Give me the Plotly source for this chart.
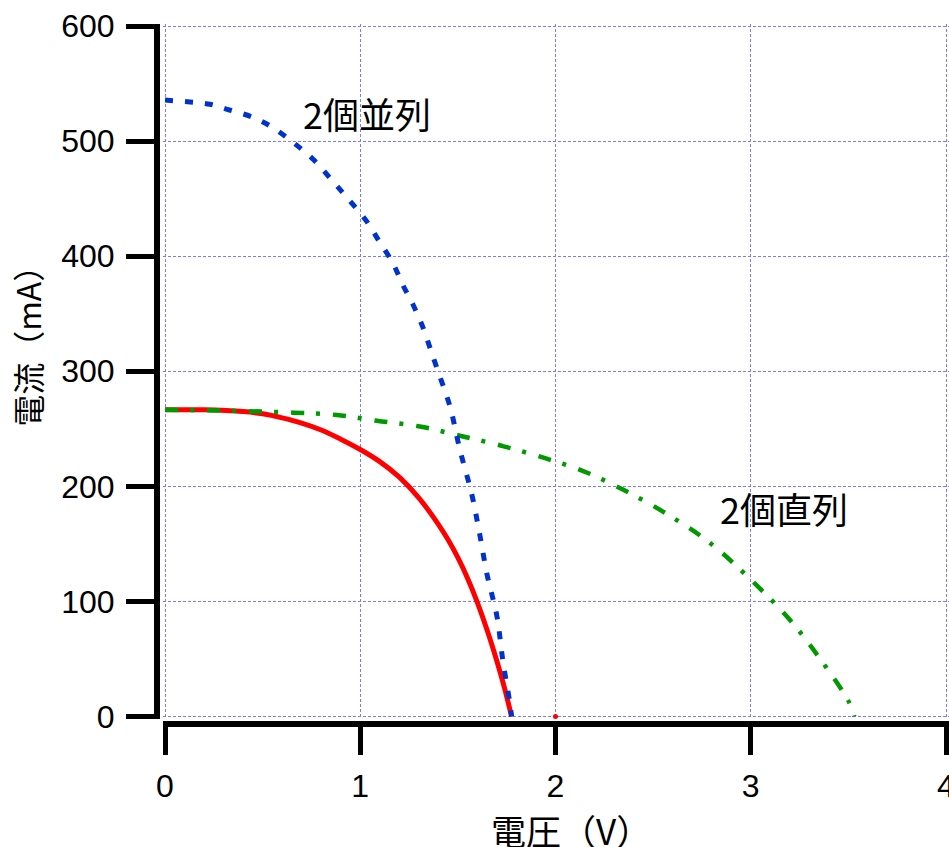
import plotly.graph_objects as go

# single cell (red solid)
single_v = [0.0, 0.2, 0.4, 0.5, 0.6, 0.7, 0.8, 0.9, 1.0, 1.1, 1.2, 1.3, 1.4, 1.45, 1.5,
            1.55, 1.6, 1.65, 1.7, 1.74, 1.775]
single_i = [266.5, 266.5, 265, 263, 259.5, 255, 249, 241, 232, 221.5, 208, 190, 167, 153.5, 138,
            120, 99, 75, 48, 24, 0]
single_end_v = [2.0]
single_end_i = [0]

# two cells in parallel (blue dotted)
par_v = [0.0, 0.128, 0.23, 0.33, 0.445, 0.55, 0.655, 0.76, 0.86, 0.947, 1.034, 1.10,
         1.167, 1.218, 1.27, 1.32, 1.356, 1.39, 1.46, 1.51, 1.57, 1.61, 1.65, 1.70,
         1.73, 1.766, 1.775]
par_i = [535.6, 534, 532, 527, 521, 512, 499, 484, 465, 448, 430, 412,
         394, 375, 358, 338.5, 321, 304, 269, 232, 194, 160, 123, 87,
         49, 12, 0]

# two cells in series (green dash-dot)
ser_v = [0.0, 0.35, 0.66, 0.88, 1.085, 1.305, 1.51, 1.73, 1.955, 2.16, 2.37, 2.58,
         2.79, 3.0, 3.2, 3.36, 3.505, 3.53]
ser_i = [266.5, 265.6, 264, 262, 257, 252, 244, 235, 224, 212, 195, 175,
         151, 119, 84, 49, 12, 0]

x_ticks = [0, 1, 2, 3, 4]
y_ticks = [0, 100, 200, 300, 400, 500, 600]

label_par = "2個並列"
label_ser = "2個直列"
x_title = "電圧（V）"
y_title = "電流（mA）"

FONT = "Liberation Sans, Arial, Noto Sans CJK JP, sans-serif"
CJK = "Noto Sans CJK JP, Liberation Sans, sans-serif"

W, H = 949, 847

L = 157
T = 24
B = H - 724.5
R = 0
pw, ph = W - L - R, H - T - B
x0_px, x4_px = 165, 946
y0_px, y600_px = 717, 26
xs = (x4_px - x0_px) / 4.0
ys = (y0_px - y600_px) / 600.0
pad = 2.0
x_range = [-pad / xs, 4 + (W - x4_px) / xs]
y_range = [-pad / ys, 600 + pad / ys]
x_dom = [(x0_px - pad - L) / pw, 1]
y_dom = [((H - B) - (y0_px + pad)) / ph, 1]


def data_x(px):
    return (px - x0_px) / xs


def data_y(py):
    return (y0_px - py) / ys


fig = go.Figure()
fig.add_trace(go.Scatter(x=single_v, y=single_i, mode="lines",
                         line=dict(color="#ff0000", width=5, shape="spline", smoothing=1),
                         showlegend=False, hoverinfo="skip"))
fig.add_trace(go.Scatter(x=single_end_v, y=single_end_i, mode="markers",
                         marker=dict(color="#ff0000", size=5),
                         showlegend=False, hoverinfo="skip", cliponaxis=False))
fig.add_trace(go.Scatter(x=ser_v, y=ser_i, mode="lines",
                         line=dict(color="#009900", width=4.5, dash="13px,12px,4px,13px", shape="spline", smoothing=1),
                         showlegend=False, hoverinfo="skip"))
fig.add_trace(go.Scatter(x=par_v, y=par_i, mode="lines",
                         line=dict(color="#0033cc", width=5, dash="8px,12px", shape="spline", smoothing=1),
                         showlegend=False, hoverinfo="skip"))

grid = dict(showgrid=True, gridcolor="#7b7bff", gridwidth=1.3, griddash="3px,2px")

fig.update_layout(
    width=W, height=H,
    margin=dict(l=L, r=R, t=T, b=B, autoexpand=False),
    paper_bgcolor="white", plot_bgcolor="white",
    font=dict(family=FONT, color="black"),
    xaxis=dict(range=x_range, domain=x_dom, anchor="free", position=0, automargin=False,
               tickvals=x_ticks, ticktext=[str(t) for t in x_ticks],
               showline=True, linecolor="black", linewidth=6,
               ticks="outside", ticklen=28, tickwidth=5, tickcolor="black",
               ticklabelstandoff=4, ticklabeloverflow="allow",
               tickfont=dict(size=32, family=FONT, color="black"),
               zeroline=False, **grid),
    yaxis=dict(range=y_range, domain=y_dom, anchor="free", position=0, automargin=False,
               tickvals=y_ticks, ticktext=[str(t) for t in y_ticks],
               showline=True, linecolor="black", linewidth=6,
               ticks="outside", ticklen=28, tickwidth=5, tickcolor="black",
               ticklabelstandoff=5, ticklabeloverflow="allow",
               tickfont=dict(size=32, family=FONT, color="black"),
               zeroline=False, **grid),
    annotations=[
        dict(text=label_par, x=data_x(367), y=data_y(113), xref="x", yref="y", showarrow=False,
             xanchor="center", yanchor="middle",
             font=dict(size=36, family=CJK, color="black")),
        dict(text=label_ser, x=data_x(784), y=data_y(508), xref="x", yref="y", showarrow=False,
             xanchor="center", yanchor="middle",
             font=dict(size=36, family=CJK, color="black")),
        dict(text=x_title, x=(571 - L) / pw, y=((H - B) - 803) / ph, xref="paper", yref="paper",
             xanchor="center", yanchor="top",
             showarrow=False, font=dict(size=35, family=CJK, color="black")),
        dict(text=y_title, x=(27 - L) / pw, y=((H - B) - 339) / ph, xref="paper", yref="paper",
             xanchor="center", yanchor="middle", textangle=-90,
             showarrow=False, font=dict(size=32, family=CJK, color="black")),
    ],
)

fig.write_html("out.html", config={"displayModeBar": False},
               post_script="document.body.style.margin='0';document.body.style.overflow='hidden';")
